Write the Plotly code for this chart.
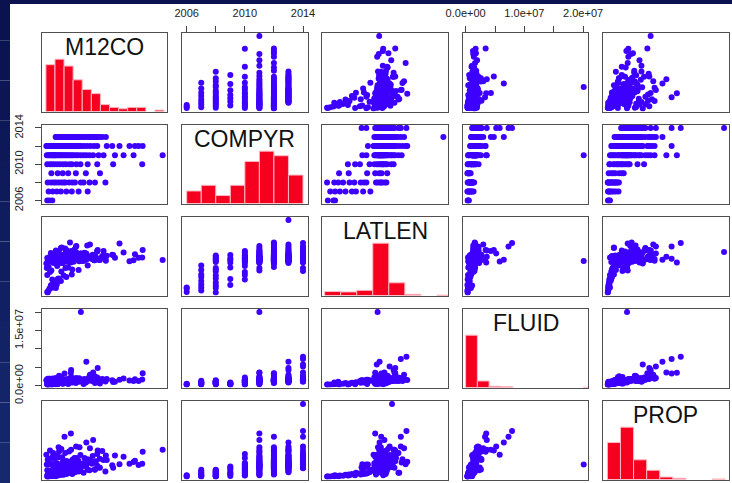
import numpy as np
import plotly.graph_objects as go

W, H = 732, 483

VAR_NAMES = ["M12CO", "COMPYR", "LATLEN", "FLUID", "PROP"]

COMPYR = [
    2006, 2006, 2006,
    2007, 2007, 2007, 2007, 2007, 2007, 2007, 2007,
    2008, 2008, 2008, 2008, 2008, 2008, 2008, 2008, 2008, 2008, 2008, 2008, 2008, 2008, 2008, 2008,
    2009, 2009, 2009, 2009, 2009, 2009, 2009,
    2010, 2010, 2010, 2010, 2010, 2010, 2010, 2010, 2010, 2010, 2010, 2010, 2010, 2010, 2010, 2010,
    2011, 2011, 2011, 2011, 2011, 2011, 2011, 2011, 2011, 2011, 2011, 2011, 2011, 2011, 2011, 2011,
    2011, 2011, 2011, 2011, 2011, 2011, 2011, 2011, 2011, 2011, 2011, 2011, 2011, 2011, 2011, 2011,
    2011, 2011, 2011, 2011, 2011,
    2012, 2012, 2012, 2012, 2012, 2012, 2012, 2012, 2012, 2012, 2012, 2012, 2012, 2012, 2012, 2012,
    2012, 2012, 2012, 2012, 2012, 2012, 2012, 2012, 2012, 2012, 2012, 2012, 2012, 2012, 2012, 2012,
    2012, 2012, 2012, 2012, 2012, 2012, 2012, 2012, 2012, 2012, 2012, 2012, 2012, 2012,
    2013, 2013, 2013, 2013, 2013, 2013, 2013, 2013, 2013, 2013, 2013, 2013, 2013, 2013, 2013, 2013,
    2013, 2013, 2013, 2013, 2013, 2013, 2013, 2013, 2013, 2013, 2013, 2013, 2013, 2013, 2013, 2013,
    2013, 2013, 2013, 2013, 2013, 2013, 2013, 2013, 2013, 2013,
    2014, 2014, 2014, 2014, 2014, 2014, 2014, 2014, 2014, 2014, 2014, 2014, 2014, 2014, 2014, 2014,
    2014, 2014, 2014, 2014, 2014, 2014, 2014, 2014, 2014,
]

M12CO = [
    8, 3, 14,
    6, 15, 24, 33, 45, 57, 72, 92,
    4, 11, 17, 22, 28, 34, 39, 43, 51, 58, 64, 77, 83, 96, 108, 131,
    12, 26, 37, 49, 66, 88, 119,
    3, 9, 14, 19, 25, 31, 38, 44, 52, 57, 67, 76, 92, 113, 148, 212,
    2, 5, 7, 10, 12, 14, 16, 18, 19, 21, 23, 26, 28, 31, 33, 36,
    39, 42, 45, 48, 51, 55, 58, 62, 67, 71, 77, 83, 89, 96, 104, 116,
    127, 152, 171, 193, 257,
    1, 3, 4, 6, 8, 9, 11, 13, 15, 16, 18, 19.5, 22, 24, 27, 29,
    32, 34, 35, 37, 38.5, 41, 44, 46, 49, 53, 56, 57, 59, 63, 66, 70,
    74, 78, 84, 91, 98, 106, 113, 134, 146, 162, 184, 196, 204, 213,
    21.5, 23, 25.5, 26, 28.5, 31, 33.5, 34, 36.5, 39, 41, 42.5, 44, 47.5, 49, 50.5,
    53, 55.5, 56, 58.5, 61, 62.5, 65, 66.5, 69, 71.5, 73, 76, 81.5, 85, 89, 93.5,
    97, 101.5, 103, 107.5, 110, 114, 118.5, 124, 132, None,
    None, None, None, None, None, None, None, None, None, None, None, None, None, None, None, None,
    None, None, None, None, None, None, None, None, None,
]

LATLEN = [
    1100, 400, 1300,
    700, 1300, 1900, 2600, 3400, 3900, 4800, 5700,
    300, 1700, 2300, 1200, 3100, 4500, 3700, 5200, 6400, 4900, 6900, 7200, 6600, 7500, 7700, 7000,
    1800, 3000, 6300, 5300, 7100, 7800, 6800,
    3800, 4400, 2900, 6200, 5600, 6500, 6900, 7200, 7600, 6700, 8300, 7100, 7400, 8600, 7800, 7300,
    5200, 6400, 7100, 6600, 4700, 7500, 6900, 7800, 6200, 7300, 8400, 6800, 7000, 7600, 9200, 6500,
    7200, 7700, 8800, 6700, 7400, 6300, 7900, 7050, 9600, 6950, 6600, 7350, 8100, 7150, 7450, 6850,
    8600, 7250, 8300, 6750, 6800,
    6100, 7200, 6600, 5400, 7400, 6900, 8200, 7000, 6300, 7700, 6800, 7300, 8700, 6500, 7100, 7500,
    6700, 7900, 9300, 6200, 7600, 7050, 8400, 6450, 7250, 10300, 6950, 7800, 6850, 8900, 7350, 7550,
    6650, 8100, 7150, 9700, 7450, 6750, 8500, 7650, 7850, 10100, 6550, 7950, 7250, 8800,
    6400, 7100, 7600, 6700, 8300, 7000, 7400, 6200, 7800, 6900, 7300, 9100, 6600, 7200, 7700, 6800,
    7500, 8600, 7050, 7350, 6450, 7900, 7150, 9500, 6950, 7550, 6550, 8100, 7250, 8250, 6850, 7450,
    9900, 7000, 7850, 6750, 7300, 8800, 7100, 7600, 6650, 14800,
    6300, 7100, 5200, 7500, 6800, 8400, 7200, 6600, 7800, 4600, 9200, 7000, 7400, 8700, 6900, 7650,
    10200, 7300, 8100, 6700, 7900, 9500, 7250, 6500, 8400,
]

FLUID = [
    0.42e6, 0.35e6, 0.55e6,
    0.30e6, 0.45e6, 0.50e6, 0.70e6, 0.80e6, 0.95e6, 1.10e6, 1.35e6,
    0.35e6, 1.10e6, 0.55e6, 0.90e6, 0.60e6, 0.80e6, 0.70e6, 0.90e6, 1.20e6, 0.85e6, 1.05e6, 1.30e6,
    0.45e6, 1.45e6, 0.70e6, 1.15e6,
    0.30e6, 0.40e6, 0.55e6, 0.45e6, 0.70e6, 0.85e6, 0.60e6,
    0.40e6, 1.30e6, 0.35e6, 0.90e6, 1.40e6, 1.10e6, 0.60e6, 0.95e6, 0.90e6, 1.20e6, 1.50e6, 1.45e6,
    1.80e6, 2.20e6, 1.00e6, 1.70e6,
    1.60e6, 0.50e6, 1.90e6, 1.60e6, 1.45e6, 0.60e6, 1.70e6, 1.10e6, 1.25e6, 0.40e6, 1.80e6, 1.75e6,
    2.30e6, 1.20e6, 1.30e6, 1.85e6, 1.30e6, 1.50e6, 1.65e6, 1.40e6, 1.95e6, 3.50e6, 1.10e6, 1.50e6,
    1.55e6, 1.35e6, 20.1e6, 1.70e6, 1.15e6, 2.60e6, 3.60e6, 0.85e6, 1.60e6, 1.10e6, 1.95e6, 1.30e6,
    None,
    1.45e6, 0.90e6, 1.90e6, 1.60e6, 1.20e6, 1.90e6, 1.50e6, 1.65e6, 1.95e6, 1.40e6, 1.85e6, 1.90e6,
    2.10e6, 1.25e6, 1.10e6, 2.70e6, 0.95e6, 2.20e6, 1.40e6, 1.35e6, 1.00e6, 3.30e6, 1.25e6, 1.70e6,
    0.75e6, 1.55e6, 2.40e6, 1.50e6, 1.05e6, 1.30e6, 1.20e6, 1.35e6, 1.90e6, 1.15e6, 1.55e6, 1.30e6,
    1.65e6, 1.80e6, 1.30e6, 1.80e6, 1.45e6, 1.60e6, 1.40e6, 1.75e6, 1.25e6, 3.40e6,
    1.50e6, 1.20e6, 1.45e6, 0.90e6, 1.40e6, 1.10e6, 1.35e6, 2.30e6, 1.60e6, 1.00e6, 1.30e6, 1.60e6,
    1.70e6, 1.25e6, 1.55e6, 1.05e6, 1.40e6, 4.30e6, 1.15e6, 1.65e6, 1.30e6, 1.85e6, 1.50e6, 2.10e6,
    1.20e6, 1.70e6, 2.05e6, 1.20e6, 1.35e6, 1.80e6, 6.50e6, 1.60e6, 3.00e6, 1.25e6, 1.95e6, 2.60e6,
    1.45e6, 4.80e6, 1.70e6, 1.85e6, 1.50e6, None,
    1.60e6, 1.40e6, 1.10e6, 1.60e6, 1.25e6, 1.40e6, 1.50e6, 1.80e6, 2.70e6, 1.50e6, 2.20e6, 1.35e6,
    1.70e6, 3.60e6, 1.30e6, 2.05e6, 7.90e6, 1.55e6, 5.20e6, 1.20e6, 2.60e6, 7.30e6, 1.75e6, 5.80e6,
    None,
]

PROP = [
    0.12e6, 0.05e6, 0.20e6,
    0.05e6, 0.10e6, 0.15e6, 0.25e6, 0.35e6, 0.50e6, 0.65e6, 0.85e6,
    0.03e6, 0.08e6, 0.12e6, 0.06e6, 0.20e6, 0.30e6, 0.25e6, 0.40e6, 0.60e6, 0.35e6, 0.55e6, 0.70e6,
    0.50e6, 0.80e6, 0.88e6, 0.65e6,
    0.10e6, 0.30e6, 0.60e6, 0.45e6, 0.90e6, 1.25e6, 1.10e6,
    0.20e6, 0.45e6, 0.15e6, 0.70e6, 0.55e6, 0.90e6, 1.20e6, 0.80e6, 1.50e6, 1.05e6, 2.30e6, 1.35e6,
    1.70e6, 2.80e6, 1.10e6, 1.60e6,
    1.50e6, 0.30e6, 2.20e6, 0.75e6, 1.55e6, 0.40e6, 2.90e6, 0.90e6, 1.35e6, 0.20e6, 1.70e6, 0.85e6,
    3.60e6, 1.10e6, 0.50e6, 2.40e6, 1.20e6, 0.60e6, 1.90e6, 1.30e6, 3.10e6, 5.30e6, 1.05e6, 1.40e6,
    1.75e6, 1.25e6, 1.50e6, 1.60e6, 1.45e6, 2.10e6, 4.50e6, 1.15e6, 2.05e6, 2.60e6, 2.45e6, 1.80e6,
    3.30e6,
    2.70e6, 0.80e6, 2.10e6, 1.50e6, 0.30e6, 3.20e6, 1.60e6, 0.70e6, 2.45e6, 1.30e6, 2.20e6, 0.90e6,
    1.10e6, 2.60e6, 1.05e6, 3.10e6, 1.02e6, 3.40e6, 0.50e6, 1.65e6, 0.35e6, 4.90e6, 1.20e6, 1.90e6,
    0.60e6, 1.85e6, 1.15e6, 1.75e6, 0.95e6, 2.30e6, 1.12e6, 1.45e6, 3.60e6, 1.25e6, 1.70e6, 2.15e6,
    1.80e6, 1.85e6, 1.35e6, 2.05e6, 1.40e6, 1.55e6, 1.60e6, 1.95e6, 1.45e6, 3.05e6,
    0.55e6, 1.30e6, 1.60e6, 1.10e6, 2.40e6, 1.20e6, 1.45e6, 0.80e6, 1.75e6, 1.15e6, 1.50e6, 2.90e6,
    0.95e6, 1.40e6, 1.85e6, 1.25e6, 1.65e6, 3.30e6, 1.35e6, 2.10e6, 0.65e6, 2.25e6, 1.70e6, 3.70e6,
    1.45e6, 1.95e6, 1.05e6, 2.65e6, 1.55e6, 2.30e6, 4.20e6, 1.80e6, 3.50e6, 1.60e6, 2.55e6, 0.90e6,
    1.90e6, 3.20e6, 2.20e6, 3.15e6, 2.60e6, None,
    1.05e6, 1.50e6, 1.20e6, 1.75e6, 1.35e6, 2.40e6, 1.65e6, 1.10e6, 2.10e6, 1.15e6, 2.90e6, 1.45e6,
    1.90e6, 3.30e6, 1.55e6, 2.60e6, 5.60e6, 1.80e6, 3.70e6, 1.25e6, 2.20e6, 4.90e6, 1.95e6, 2.70e6,
    8.90e6,
]

# histogram break points (R "pretty" style)
BREAKS = {
    "M12CO": list(range(0, 261, 20)),
    "COMPYR": list(range(2006, 2015, 1)),
    "LATLEN": list(range(0, 16001, 2000)),
    "FLUID": [b * 1e6 for b in range(0, 23, 2)],
    "PROP": [b * 1e6 for b in range(0, 10, 1)],
}

YEAR_TICKS = [2006, 2008, 2010, 2012, 2014]
YEAR_TICKTEXT = ["2006", "", "2010", "", "2014"]
FLUID_TICKS = [0, 5e6, 1e7, 1.5e7, 2e7]
FLUID_TOP_TICKTEXT = ["0.0e+00", "", "1.0e+07", "", "2.0e+07"]
FLUID_LEFT_TICKTEXT = ["0.0e+00", "", "", "1.5e+07", ""]

DATA = {"M12CO": M12CO, "COMPYR": COMPYR, "LATLEN": LATLEN, "FLUID": FLUID, "PROP": PROP}

# ---- styling / layout constants ----
PT_COLOR = "#3D00FF"
BAR_COLOR = "#F5001F"
BAR_EDGE = "rgba(255,185,195,1)"
BOX_COLOR = "#505050"
FONT = "Liberation Sans, Arial, sans-serif"

LEFT0, STEPX, PW = 41.7, 140.35, 125.6
TOP0, STEPY, PH = 33.0, 92.0, 78.5


def r_range(vals):
    a = np.array([v for v in vals if v is not None], dtype=float)
    lo, hi = a.min(), a.max()
    d = (hi - lo) * 0.04
    return [lo - d, hi + d]


def r_hist(vals, breaks):
    a = np.array([v for v in vals if v is not None], dtype=float)
    b = np.array(breaks, dtype=float)
    idx = np.searchsorted(b, a, side="left") - 1
    idx[idx < 0] = 0
    counts = np.bincount(idx, minlength=len(b) - 1)[: len(b) - 1]
    return counts


fig = go.Figure()
layout = dict(
    template="none",
    width=W, height=H, margin=dict(l=0, r=0, t=0, b=0, autoexpand=False),
    paper_bgcolor="white", plot_bgcolor="white", showlegend=False,
    font=dict(family=FONT, color="#222"),
)
annotations = []

n = len(VAR_NAMES)
for i in range(n):
    for j in range(n):
        k = i * n + j + 1
        sfx = "" if k == 1 else str(k)
        x0 = LEFT0 + STEPX * j
        y0 = TOP0 + STEPY * i
        xdom = [x0 / W, (x0 + PW) / W]
        ydom = [1 - (y0 + PH) / H, 1 - y0 / H]
        vx = VAR_NAMES[j]
        vy = VAR_NAMES[i]
        common = dict(showgrid=False, zeroline=False, showline=True, mirror=True,
                      linecolor=BOX_COLOR, linewidth=1, ticks="", showticklabels=False,
                      automargin=False)
        xa = dict(domain=xdom, anchor="y" + sfx, range=r_range(DATA[vx]), **common)
        ya = dict(domain=ydom, anchor="x" + sfx, **common)
        if i == j:
            ya["range"] = [0, 1.5]
            counts = r_hist(DATA[vx], BREAKS[vx])
            br = np.array(BREAKS[vx], dtype=float)
            keep = counts > 0
            fig.add_trace(go.Bar(
                x=((br[:-1] + br[1:]) / 2)[keep], y=(counts / counts.max())[keep],
                width=np.diff(br)[keep],
                marker=dict(color=BAR_COLOR, line=dict(color=BAR_EDGE, width=1)),
                xaxis="x" + sfx, yaxis="y" + sfx, hoverinfo="skip"))
            annotations.append(dict(
                text=vx, xref="paper", yref="paper",
                x=(x0 + PW / 2) / W, y=1 - (y0 + 13.5) / H,
                xanchor="center", yanchor="middle", showarrow=False,
                font=dict(family=FONT, size=23, color="#111")))
        else:
            ya["range"] = r_range(DATA[vy])
            px, py = [], []
            for a, b in zip(DATA[vx], DATA[vy]):
                if a is not None and b is not None:
                    px.append(a)
                    py.append(b)
            fig.add_trace(go.Scatter(
                x=px, y=py, mode="markers",
                marker=dict(color=PT_COLOR, size=6, line=dict(width=0)),
                xaxis="x" + sfx, yaxis="y" + sfx, hoverinfo="skip"))
        tickstyle = dict(ticks="outside", ticklen=6, tickcolor="#444", tickwidth=1,
                         showticklabels=True, tickfont=dict(family=FONT, size=11, color="#222"))
        if i == 0 and j == 1:
            xa.update(side="top", tickvals=YEAR_TICKS, ticktext=YEAR_TICKTEXT,
                      ticklabelstandoff=5, **tickstyle)
        if i == 0 and j == 3:
            xa.update(side="top", tickvals=FLUID_TICKS, ticktext=FLUID_TOP_TICKTEXT,
                      ticklabelstandoff=5, **tickstyle)
        if j == 0 and i == 1:
            ya.update(tickvals=YEAR_TICKS, ticktext=YEAR_TICKTEXT, tickangle=-90,
                      ticklabelstandoff=7, **tickstyle)
        if j == 0 and i == 3:
            ya.update(tickvals=FLUID_TICKS, ticktext=FLUID_LEFT_TICKTEXT, tickangle=-90,
                      ticklabelstandoff=7, **tickstyle)
        layout["xaxis" + sfx] = xa
        layout["yaxis" + sfx] = ya

# slide-like dark frame on the top and left edges
shapes = [
    dict(type="rect", xref="paper", yref="paper", x0=0, x1=1, y0=1 - 4 / H, y1=1,
         fillcolor="#0A124F", line=dict(width=0), layer="above"),
]
n_strip = 12
for s in range(n_strip):
    t = s / (n_strip - 1)
    r = int(10 + t * 12)
    g = int(18 + t * 22)
    b = int(80 + t * 30)
    shapes.append(dict(type="rect", xref="paper", yref="paper", x0=0, x1=10 / W,
                       y0=1 - (s + 1) / n_strip, y1=1 - s / n_strip,
                       fillcolor=f"rgb({r},{g},{b})", line=dict(width=0), layer="above"))

layout["shapes"] = shapes
layout["annotations"] = annotations
fig.update_layout(**layout)
fig.write_html("out.html")
